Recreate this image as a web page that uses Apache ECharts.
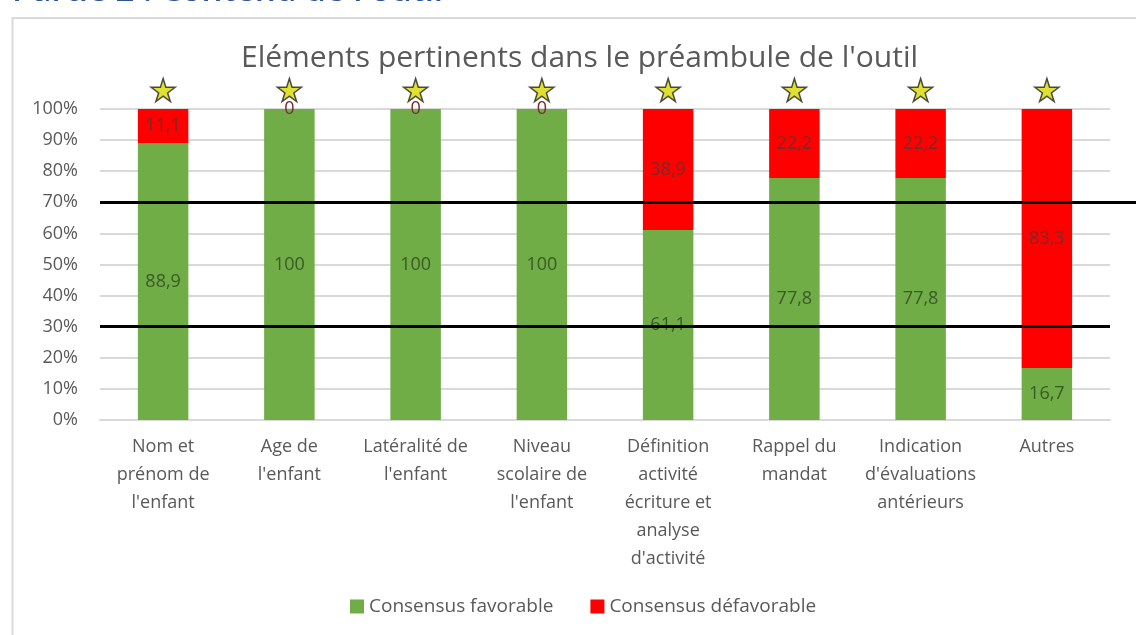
<!DOCTYPE html>
<html>
<head>
<meta charset="utf-8">
<script src="https://cdn.jsdelivr.net/npm/echarts@6/dist/echarts.min.js"></script>
<style>html,body{margin:0;padding:0;background:#fff;}#c{width:1136px;height:635px;}</style>
</head>
<body>
<div id="c"></div>
<script>
const categories = [
  "Nom et\nprénom de\nl'enfant",
  "Age de\nl'enfant",
  "Latéralité de\nl'enfant",
  "Niveau\nscolaire de\nl'enfant",
  "Définition\nactivité\nécriture et\nanalyse\nd'activité",
  "Rappel du\nmandat",
  "Indication\nd'évaluations\nantérieurs",
  "Autres"
];
const favorable = [88.9, 100, 100, 100, 61.1, 77.8, 77.8, 16.7];
const defavorable = [11.1, 0, 0, 0, 38.9, 22.2, 22.2, 83.3];
const starLevel = [100, 100, 100, 100, 100, 100, 100, 100];
const thresholdHigh = 70;
const thresholdLow = 30;
const yTicks = [0, 10, 20, 30, 40, 50, 60, 70, 80, 90, 100];

const FONT = '"Open Sans", Lato, "Liberation Sans", sans-serif';
const fmt = v => String(v).replace('.', ',');
const chart = echarts.init(document.getElementById('c'), null, {renderer: 'canvas'});
chart.setOption({
  animation: false,
  backgroundColor: '#fff',
  textStyle: {fontFamily: FONT},
  graphic: [
    {type: 'rect', shape: {x: 12.5, y: 18, width: 1200, height: 700}, style: {fill: 'none', stroke: '#d9d9d9', lineWidth: 2}, silent: true, z: 0},
    {type: 'text', x: 12, y: 8, z: 100, style: {text: "Partie 2 : Contenu de l'outil", fill: '#2f5597', font: '600 33px "Open Sans", sans-serif', verticalAlign: 'bottom'}, silent: true}
  ],
  title: {
    text: "Eléments pertinents dans le préambule de l'outil",
    left: 236, top: 38,
    textStyle: {fontFamily: FONT, fontSize: 30, fontWeight: 'normal', color: '#595959'}
  },
  legend: {
    bottom: 14, left: 345,
    itemWidth: 14, itemHeight: 14, itemGap: 37,
    icon: 'rect',
    textStyle: {fontFamily: FONT, fontSize: 19, color: '#595959'},
    data: ['Consensus favorable', 'Consensus défavorable']
  },
  grid: [
    {left: 100, right: 26, top: 109, bottom: 215},
    {left: 100, right: 0, top: 109, bottom: 215}
  ],
  xAxis: [
    {
      type: 'category', data: categories, gridIndex: 0,
      axisLine: {lineStyle: {color: '#d9d9d9', width: 2}},
      axisTick: {show: false},
      axisLabel: {interval: 0, color: '#595959', fontSize: 18, lineHeight: 28, margin: 13, fontFamily: FONT}
    },
    {type: 'value', gridIndex: 1, min: 0, max: 1, show: false}
  ],
  yAxis: [
    {
      type: 'value', min: 0, max: 100, interval: 10, gridIndex: 0,
      axisLine: {show: false}, axisTick: {show: false},
      splitLine: {lineStyle: {color: '#d9d9d9', width: 2}},
      axisLabel: {formatter: v => v + '%', color: '#595959', fontSize: 18, margin: 22, fontFamily: FONT}
    },
    {type: 'value', min: 0, max: 100, gridIndex: 1, show: false}
  ],
  series: [
    {
      name: 'Consensus favorable', type: 'bar', stack: 'tot', data: favorable,
      barWidth: '40%',
      itemStyle: {color: '#70ad47'},
      label: {show: true, position: 'inside', formatter: p => fmt(p.value), color: '#3a5a26', fontSize: 18, fontFamily: FONT},
      markLine: {
        silent: true, symbol: 'none', label: {show: false},
        lineStyle: {color: '#000', width: 3, type: 'solid'},
        data: [{yAxis: thresholdLow}]
      }
    },
    {
      name: 'Consensus défavorable', type: 'bar', stack: 'tot', data: defavorable,
      barWidth: '40%',
      itemStyle: {color: '#ff0000'},
      label: {show: true, position: 'inside', formatter: p => fmt(p.value), color: '#7a2a2a', fontSize: 18, fontFamily: FONT}
    },
    {
      name: 'stars', type: 'scatter', data: starLevel, z: 10,
      symbol: 'path://M50,0 L61,35 L98,35 L68,57 L79,91 L50,70 L21,91 L32,57 L2,35 L39,35 Z',
      symbolSize: [24, 23], symbolOffset: [0, -19],
      itemStyle: {color: '#d8d800', borderColor: '#222', borderWidth: 1.5},
      clip: false, silent: true
    },
    {
      name: 'seuil', type: 'line', xAxisIndex: 1, yAxisIndex: 1, data: [], silent: true,
      markLine: {
        silent: true, symbol: 'none', label: {show: false},
        lineStyle: {color: '#000', width: 3, type: 'solid'},
        data: [{yAxis: thresholdHigh}]
      }
    }
  ]
});
</script>
</body>
</html>
